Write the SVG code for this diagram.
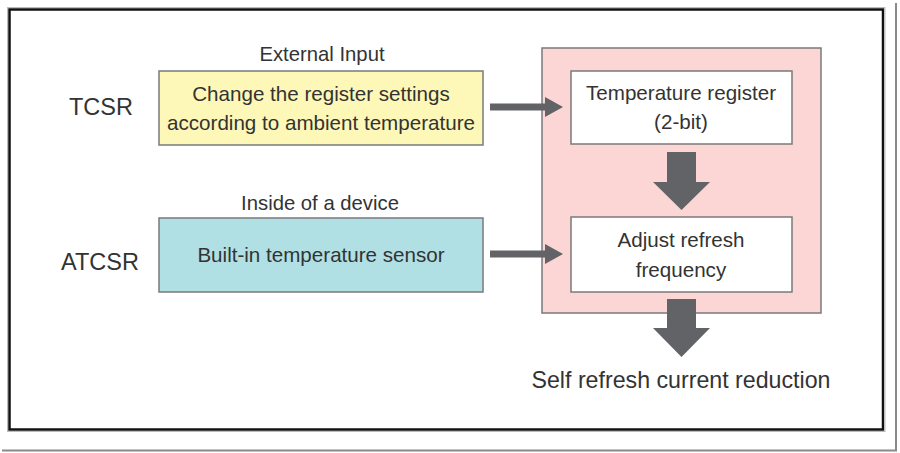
<svg xmlns="http://www.w3.org/2000/svg" width="900" height="453" viewBox="0 0 900 453">
<style>
text{font-family:"Liberation Sans",Arial,sans-serif;fill:#333;text-anchor:middle}
.lbl{font-size:23.5px}
.cap{font-size:20.3px}
.box{font-size:20.6px}
.res{font-size:23.2px}
.nb{stroke:#7a7a7a;stroke-width:1.5}
.arr{fill:#626366}
</style>
<rect x="0" y="0" width="900" height="453" fill="#fff"/>
<path d="M896,3 V450.5 H2" fill="none" stroke="#8a8a8a" stroke-width="2"/>
<rect x="9.5" y="9.5" width="873.5" height="420" fill="#fff" stroke="#111" stroke-width="2.5"/>
<rect x="7.5" y="7.5" width="877.5" height="424" fill="none" stroke="#bbb" stroke-width="1"/>
<g id="label-tcsr"><text class="lbl" x="101" y="115">TCSR</text></g>
<g id="label-atcsr"><text class="lbl" x="100" y="270">ATCSR</text></g>
<g id="cap-external"><text class="cap" x="322" y="61">External Input</text></g>
<g id="cap-inside"><text class="cap" x="320" y="210">Inside of a device</text></g>
<g id="node-change">
<rect class="nb" x="159" y="71" width="324" height="74" fill="#fdf7b8"/>
<text class="box" x="321" y="101">Change the register settings</text>
<text class="box" x="321" y="130">according to ambient temperature</text>
</g>
<g id="node-sensor">
<rect class="nb" x="159" y="218" width="324" height="74" fill="#b0dfe4"/>
<text class="box" x="321" y="262">Built-in temperature sensor</text>
</g>
<g id="node-container">
<rect class="nb" x="542" y="48" width="279" height="265" fill="#fcd5d5"/>
</g>
<g id="node-register">
<rect class="nb" x="571" y="71" width="221" height="73" fill="#fff"/>
<text class="box" x="681" y="100">Temperature register</text>
<text class="box" x="681" y="129">(2-bit)</text>
</g>
<g id="node-adjust">
<rect class="nb" x="571" y="217" width="221" height="75" fill="#fff"/>
<text class="box" x="681" y="247">Adjust refresh</text>
<text class="box" x="681" y="277">frequency</text>
</g>
<g id="node-result"><text class="res" x="681" y="388">Self refresh current reduction</text></g>
<g id="connectors">
<polygon class="arr" points="490,103.5 545,103.5 545,97 563,107 545,117 545,110.5 490,110.5"/>
<polygon class="arr" points="490,250.5 545,250.5 545,244 563,254 545,264 545,257.5 490,257.5"/>
<polygon class="arr" points="667,152 696,152 696,182 710,182 681.5,210 653,182 667,182"/>
<polygon class="arr" points="667,299 696,299 696,328 710,328 681.5,357 653,328 667,328"/>
</g>
</svg>
